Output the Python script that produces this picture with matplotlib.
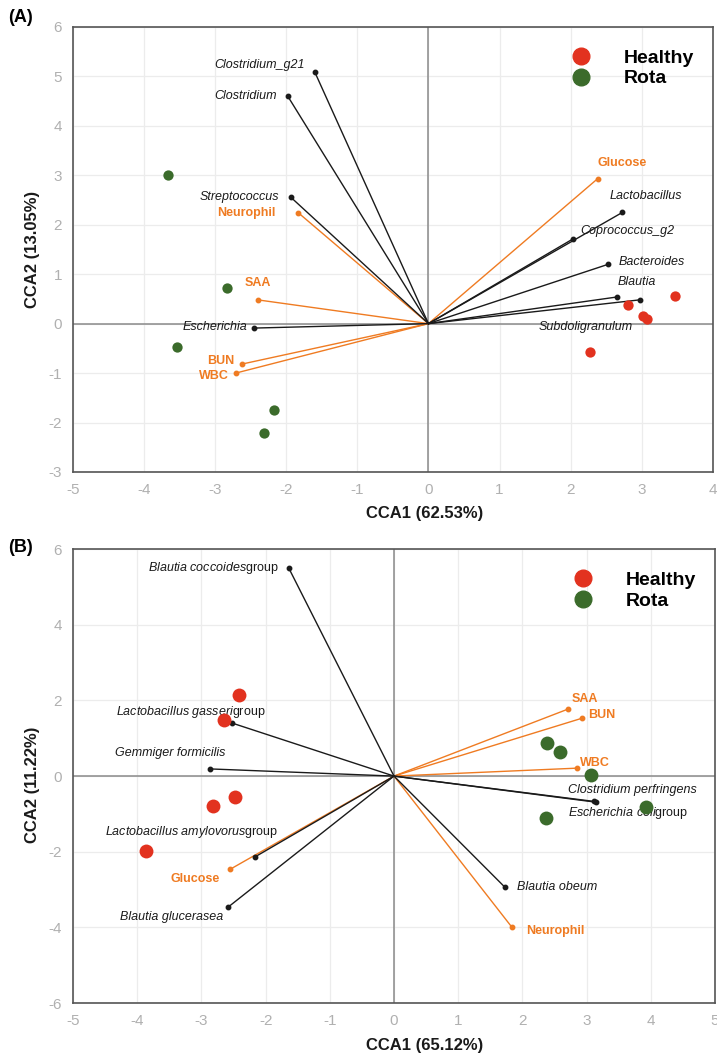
import numpy as np
import matplotlib.pyplot as plt
from matplotlib.lines import Line2D

plt.rcParams['font.family'] = ['Liberation Sans', 'DejaVu Sans']
plt.rcParams['mathtext.fontset'] = 'custom'
plt.rcParams['mathtext.it'] = 'Liberation Sans:italic'
plt.rcParams['mathtext.rm'] = 'Liberation Sans'
plt.rcParams['axes.unicode_minus'] = False

RED = "#e2321f"
GREEN = "#3b6b2b"
ORANGE = "#ef7b22"
INK = "#1a1a1a"

# ---- Panel A data ----
a_healthy_x = [3.47, 2.81, 3.02, 3.08, 2.28]
a_healthy_y = [0.56, 0.37, 0.15, 0.09, -0.57]
a_rota_x = [-3.67, -2.84, -3.54, -2.18, -2.31]
a_rota_y = [3.00, 0.72, -0.47, -1.75, -2.21]

a_species = ["Clostridium_g21", "Clostridium", "Streptococcus", "Escherichia",
             "Lactobacillus", "Coprococcus_g2", "Bacteroides", "Blautia",
             "Subdoligranulum"]
a_species_x = [-1.60, -1.98, -1.94, -2.45, 2.73, 2.03, 2.53, 2.66, 2.97]
a_species_y = [5.09, 4.60, 2.56, -0.09, 2.25, 1.71, 1.20, 0.54, 0.48]

a_env = ["Neurophil", "SAA", "BUN", "WBC", "Glucose"]
a_env_x = [-1.83, -2.40, -2.63, -2.71, 2.38]
a_env_y = [2.24, 0.48, -0.82, -1.00, 2.93]

# ---- Panel B data ----
b_healthy_x = [-2.41, -2.65, -2.48, -2.82, -3.86]
b_healthy_y = [2.14, 1.48, -0.55, -0.79, -1.98]
b_rota_x = [2.38, 2.59, 3.07, 3.93, 2.37]
b_rota_y = [0.87, 0.63, 0.03, -0.82, -1.11]

b_species = ["Blautia coccoides|group", "Lactobacillus gasseri|group",
             "Gemmiger formicilis", "Lactobacillus amylovorus|group",
             "Blautia glucerasea", "Clostridium perfringens",
             "Escherichia coli|group", "Blautia obeum"]
b_species_x = [-1.64, -2.52, -2.87, -2.17, -2.59, 3.15, 3.12, 1.73]
b_species_y = [5.50, 1.40, 0.19, -2.14, -3.47, -0.69, -0.67, -2.94]

b_env = ["SAA", "BUN", "WBC", "Glucose", "Neurophil"]
b_env_x = [2.71, 2.93, 2.85, -2.55, 1.84]
b_env_y = [1.77, 1.53, 0.21, -2.46, -4.00]

# label placement (pixel offsets dx, dy-up, alignment)
a_offsets = {
    "Clostridium_g21": (-10, 7, "right"), "Clostridium": (-11, 0, "right"),
    "Streptococcus": (-11, 0, "right"), "Escherichia": (-7, 1, "right"),
    "Lactobacillus": (-13, 16, "left"), "Coprococcus_g2": (8, 8, "left"),
    "Bacteroides": (10, 2, "left"), "Blautia": (0, 15, "left"),
    "Subdoligranulum": (-7, -27, "right"),
    "Neurophil": (-23, 0, "right"), "SAA": (0, 17, "center"),
    "BUN": (-7, 3, "right"), "WBC": (-7, -3, "right"), "Glucose": (0, 16, "left"),
}
b_offsets = {
    "Blautia coccoides|group": (-10, 0, "right"),
    "Lactobacillus gasseri|group": (-42, 11, "center"),
    "Gemmiger formicilis": (-40, 16, "center"),
    "Lactobacillus amylovorus|group": (-63, 25, "center"),
    "Blautia glucerasea": (-5, -10, "right"),
    "Clostridium perfringens": (36, 12, "center"),
    "Escherichia coli|group": (34, -12, "center"),
    "Blautia obeum": (12, 0, "left"),
    "SAA": (4, 10, "left"), "BUN": (6, 3, "left"), "WBC": (3, 5, "left"),
    "Glucose": (-11, -10, "right"), "Neurophil": (14, -4, "left"),
}

PX = 72 / 100  # pixels -> points


def species_text(name):
    if "|" in name:
        it, rm = name.split("|")
        return r"$\mathit{" + it.replace(" ", r"\ ") + "}$" + rm, "normal"
    return name, "italic"


def draw_panel(ax, hx, hy, rx, ry, sp, spx, spy, env, ex, ey, offs,
               xlim, ylim, xticks, yticks, xlabel, ylabel, psize):
    ax.set_xlim(*xlim)
    ax.set_ylim(*ylim)
    ax.set_xticks(xticks)
    ax.set_yticks(yticks)
    ax.grid(True, color="#ececec", lw=0.9)
    ax.set_axisbelow(True)
    ax.axhline(0, color="#8a8a8a", lw=1.1, zorder=1)
    ax.axvline(0, color="#8a8a8a", lw=1.1, zorder=1)
    for s in ax.spines.values():
        s.set_color("#555555")
        s.set_linewidth(1.2)
    ax.tick_params(length=0, labelsize=11, labelcolor="#b0b0b0", pad=8)

    for names, xs, ys, col, is_env in [(env, ex, ey, ORANGE, True),
                                       (sp, spx, spy, INK, False)]:
        for n, x, y in zip(names, xs, ys):
            ax.plot([0, x], [0, y], color=col, lw=1.0, zorder=3)
            ax.plot(x, y, "o", color=col, ms=3.2, zorder=4)
            dx, dy, ha = offs[n]
            if is_env:
                txt, style = n, "normal"
                weight = "bold"
            else:
                txt, style = species_text(n)
                weight = "normal"
            ax.annotate(txt, (x, y), xytext=(dx * PX, dy * PX),
                        textcoords="offset points", ha=ha, va="center",
                        color=col, fontsize=9, fontstyle=style,
                        fontweight=weight, zorder=5)

    ax.scatter(hx, hy, s=psize, color=RED, zorder=6, linewidths=0)
    ax.scatter(rx, ry, s=psize, color=GREEN, zorder=6, linewidths=0)

    handles = [Line2D([], [], marker="o", ls="", color=RED, ms=12),
               Line2D([], [], marker="o", ls="", color=GREEN, ms=12)]
    ax.legend(handles, ["Healthy", "Rota"], loc="upper right",
              bbox_to_anchor=(0.995, 0.985), frameon=False,
              prop={"size": 14, "weight": "bold"}, handletextpad=1.2,
              labelspacing=0.15, borderpad=0.3)

    ax.set_xlabel(xlabel, fontsize=12, fontweight="bold", color=INK)
    ax.set_ylabel(ylabel, fontsize=12, fontweight="bold", color=INK)


fig = plt.figure(figsize=(7.17, 10.57), dpi=100)
ax1 = fig.add_axes([0.102, 0.5535, 0.892, 0.421])
ax2 = fig.add_axes([0.102, 0.051, 0.895, 0.4295])

draw_panel(ax1, a_healthy_x, a_healthy_y, a_rota_x, a_rota_y,
           a_species, a_species_x, a_species_y, a_env, a_env_x, a_env_y,
           a_offsets, (-5, 4), (-3, 6), range(-5, 5), range(-3, 7),
           "CCA1 (62.53%)", "CCA2 (13.05%)", 55)
draw_panel(ax2, b_healthy_x, b_healthy_y, b_rota_x, b_rota_y,
           b_species, b_species_x, b_species_y, b_env, b_env_x, b_env_y,
           b_offsets, (-5, 5), (-6, 6), range(-5, 6), range(-6, 7, 2),
           "CCA1 (65.12%)", "CCA2 (11.22%)", 100)
ax1.xaxis.set_label_coords(0.55, -0.076)
ax2.xaxis.set_label_coords(0.548, -0.077)
ax1.yaxis.set_label_coords(-0.052, 0.5)
ax2.yaxis.set_label_coords(-0.052, 0.48)

fig.text(0.012, 0.983, "(A)", fontsize=13, fontweight="bold", va="center")
fig.text(0.012, 0.482, "(B)", fontsize=13, fontweight="bold", va="center")

fig.savefig("out.png", dpi=100)
